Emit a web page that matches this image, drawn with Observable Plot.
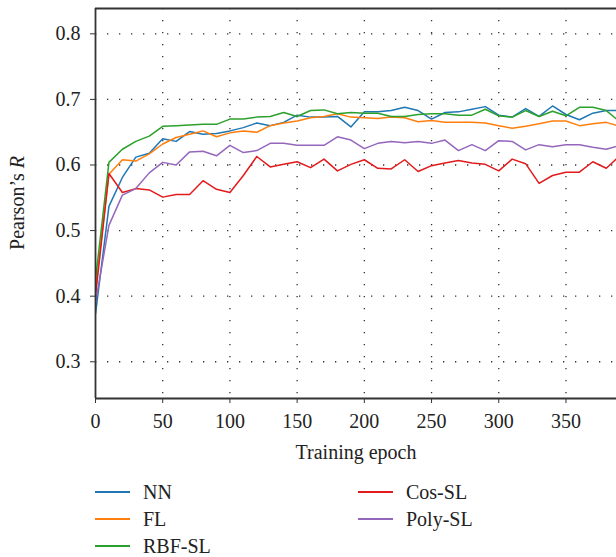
<!DOCTYPE html>
<html><head><meta charset="utf-8">
<script src="https://cdn.jsdelivr.net/npm/d3@7"></script>
<script src="https://cdn.jsdelivr.net/npm/@observablehq/plot@0.6"></script>
<style>
body{margin:0;background:#fff;}
#wrap{position:relative;width:616px;height:557px;overflow:hidden;font-family:"Liberation Serif",serif;background:#fff;}
#wrap svg{position:absolute;left:0;top:0;}
.leg{position:absolute;height:27px;font-size:20px;color:#222;display:flex;align-items:center;white-space:nowrap;}
.leg .sw{display:inline-block;width:35px;height:2px;margin-right:13px;}
</style></head><body><div id="wrap"></div>
<script>
const epochs = [0,10,20,30,40,50,60,70,80,90,100,110,120,130,140,150,160,170,180,190,200,210,220,230,240,250,260,270,280,290,300,310,320,330,340,350,360,370,380,390];
const nn   = [0.373,0.537,0.581,0.612,0.618,0.640,0.636,0.651,0.647,0.648,0.652,0.657,0.664,0.660,0.665,0.676,0.673,0.673,0.674,0.658,0.681,0.681,0.683,0.688,0.683,0.670,0.680,0.681,0.685,0.689,0.676,0.673,0.686,0.674,0.690,0.677,0.669,0.679,0.683,0.683];
const fl   = [0.410,0.586,0.608,0.606,0.617,0.632,0.642,0.647,0.652,0.643,0.649,0.652,0.650,0.660,0.664,0.667,0.672,0.674,0.678,0.673,0.672,0.671,0.673,0.672,0.666,0.668,0.665,0.665,0.665,0.664,0.660,0.656,0.659,0.663,0.667,0.667,0.660,0.663,0.665,0.659];
const rbf  = [0.425,0.604,0.624,0.636,0.644,0.659,0.660,0.661,0.662,0.662,0.670,0.670,0.673,0.674,0.680,0.674,0.683,0.684,0.678,0.680,0.679,0.679,0.674,0.674,0.677,0.678,0.678,0.676,0.676,0.685,0.675,0.673,0.683,0.674,0.682,0.675,0.688,0.688,0.683,0.666];
const cos  = [0.400,0.587,0.558,0.564,0.562,0.551,0.555,0.555,0.576,0.563,0.558,0.584,0.613,0.597,0.601,0.605,0.596,0.609,0.591,0.601,0.608,0.595,0.594,0.608,0.590,0.599,0.603,0.607,0.603,0.601,0.591,0.609,0.602,0.572,0.584,0.589,0.589,0.605,0.595,0.614];
const poly = [0.390,0.508,0.554,0.564,0.588,0.604,0.600,0.620,0.621,0.614,0.630,0.619,0.622,0.633,0.633,0.630,0.630,0.630,0.643,0.638,0.625,0.633,0.636,0.634,0.636,0.633,0.638,0.622,0.631,0.622,0.637,0.636,0.623,0.631,0.628,0.631,0.631,0.627,0.624,0.630];
const seriesNames  = ["NN","FL","RBF-SL","Cos-SL","Poly-SL"];
const seriesColors = ["#1f77b4","#ff7f0e","#2ca02c","#e31a1c","#9467bd"];
const xTicks = [0,50,100,150,200,250,300,350];
const yTicks = [0.3,0.4,0.5,0.6,0.7,0.8];
const xDomain = [0,387.6];
const yDomain = [0.244,0.8386];

const rows = [];
[nn,fl,rbf,cos,poly].forEach((vals,i)=>vals.forEach((v,j)=>rows.push({epoch:epochs[j],r:v,series:seriesNames[i]})));

const chart = Plot.plot({
  width:616, height:465,
  marginLeft:95, marginRight:0, marginTop:8, marginBottom:67,
  style:{fontFamily:"'Liberation Serif', serif", fontSize:"20px", color:"#222", background:"#fff", overflow:"visible"},
  x:{domain:xDomain},
  y:{domain:yDomain},
  color:{domain:seriesNames, range:seriesColors},
  marks:[
    Plot.gridX(xTicks.slice(1),{stroke:"#333", strokeOpacity:1, strokeWidth:1.3, strokeDasharray:"1.3 10.7"}),
    Plot.gridY(yTicks,{stroke:"#333", strokeOpacity:1, strokeWidth:1.3, strokeDasharray:"1.3 10.7"}),
    Plot.lineY(rows,{x:"epoch", y:"r", stroke:"series", strokeWidth:1.5, clip:true}),
    Plot.ruleX([xDomain[0]],{stroke:"#333", strokeWidth:1.8}),
    Plot.ruleY(yDomain,{stroke:"#333", strokeWidth:1.8}),
    Plot.axisX(xTicks,{tickSize:5, tickPadding:10, label:null, stroke:"#333"}),
    Plot.axisY(yTicks,{tickSize:5, tickPadding:10, label:null, stroke:"#333", tickFormat:d=>d.toFixed(1)}),
    Plot.text(["Training epoch"],{text:d=>d, frameAnchor:"bottom", lineAnchor:"bottom", dy:60, fill:"#222", fontSize:20})
  ]
});
document.getElementById("wrap").appendChild(chart);

const yl = d3.select(chart).append("text")
  .attr("transform","translate(24,203) rotate(-90)")
  .attr("text-anchor","middle")
  .attr("fill","#222")
  .style("font-family","'Liberation Serif', serif")
  .style("font-size","20px");
yl.append("tspan").text("Pearson\u2019s ");
yl.append("tspan").attr("font-style","italic").text("R");

const legPos = [[95,478.5],[95,505.5],[95,532.5],[358,478.5],[358,505.5]];
seriesNames.forEach((n,i)=>{
  const d = document.createElement("div");
  d.className = "leg";
  d.style.left = legPos[i][0]+"px";
  d.style.top = legPos[i][1]+"px";
  const sw = document.createElement("span");
  sw.className = "sw";
  sw.style.backgroundColor = seriesColors[i];
  d.appendChild(sw);
  const t = document.createElement("span");
  t.textContent = n;
  d.appendChild(t);
  document.getElementById("wrap").appendChild(d);
});
</script></body></html>
